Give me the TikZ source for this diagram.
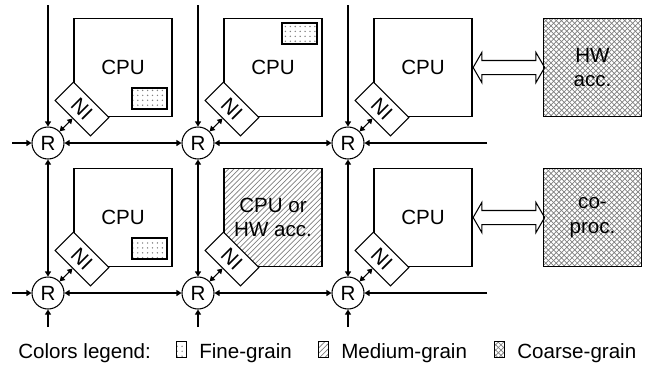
\documentclass[tikz,border=0pt]{standalone}
\usepackage{fontspec}
\setmainfont{Liberation Sans}
\usetikzlibrary{arrows.meta, positioning, patterns, shapes.arrows}

\pgfdeclarepatternformonly{finedots}{\pgfqpoint{-1pt}{-1pt}}{\pgfqpoint{1pt}{1pt}}{\pgfqpoint{2.8pt}{2.8pt}}%
{\pgfpathcircle{\pgfqpoint{0pt}{0pt}}{0.45pt}\pgfusepath{fill}}

\tikzset{
  lbl/.style={font=\fontsize{11.7}{14}\selectfont},
  router/.style={circle, draw, line width=0.6pt, minimum size=0.64cm, inner sep=0pt, fill=white, lbl},
  core/.style={draw, line width=0.6pt, minimum size=1.96cm, inner sep=0pt, align=center, lbl},
  ni/.style={draw, line width=0.6pt, fill=white, minimum width=1cm, minimum height=0.52cm, inner sep=0pt, rotate=-45, lbl},
  patch/.style={draw, line width=0.6pt, minimum width=0.7cm, minimum height=0.42cm, inner sep=0pt},
  legicon/.style={draw, line width=0.4pt, minimum width=0.2cm, minimum height=0.32cm, inner sep=0pt},
  legtext/.style={lbl, inner sep=0pt},
  link/.style={line width=0.6pt, {Triangle[length=1mm,width=1.2mm]}-{Triangle[length=1mm,width=1.2mm]}},
  inlink/.style={line width=0.6pt, -{Triangle[length=1mm,width=1.2mm]}},
  bus/.style={double arrow, draw, line width=0.6pt, inner sep=0pt, inner ysep=0.13cm, double arrow head extend=0.16cm, double arrow tip angle=120},
  fine/.style={pattern=finedots, pattern color=gray},
  medium/.style={pattern=north east lines, pattern color=gray},
  coarse/.style={pattern=crosshatch, pattern color=gray}
}

\begin{document}
\begin{tikzpicture}
    \useasboundingbox (-0.96,-4.46) rectangle (12.02,2.86);

    % Cores
    \node[core] (c00) at (1.5,1.51) {CPU};
    \node[core] (c10) at (4.5,1.51) {CPU};
    \node[core] (c20) at (7.5,1.51) {CPU};
    \node[core] (c01) at (1.5,-1.49) {CPU};
    \node[core, medium] (c11) at (4.5,-1.49) {CPU or\\HW acc.};
    \node[core] (c21) at (7.5,-1.49) {CPU};

    % Fine-grain parts
    \node[patch, fine] (f00) at (2.03,0.89) {};
    \node[patch, fine] (f10) at (5.03,2.19) {};
    \node[patch, fine] (f01) at (2.03,-2.11) {};

    % Accelerators
    \node[core, coarse] (hw) at (10.89,1.51) {HW\\acc.};
    \node[core, coarse] (cop) at (10.89,-1.49) {co-\\proc.};
    \node[bus, minimum height=1.43cm, right=0pt of c20] (bus0) {};
    \node[bus, minimum height=1.43cm, right=0pt of c21] (bus1) {};

    % Network interfaces
    \node[ni] (n00) at (0.68,0.68) {NI};
    \node[ni] (n10) at (3.68,0.68) {NI};
    \node[ni] (n20) at (6.68,0.68) {NI};
    \node[ni] (n01) at (0.68,-2.32) {NI};
    \node[ni] (n11) at (3.68,-2.32) {NI};
    \node[ni] (n21) at (6.68,-2.32) {NI};

    % Routers
    \node[router] (r00) at (0,0) {R};
    \node[router] (r10) at (3,0) {R};
    \node[router] (r20) at (6,0) {R};
    \node[router] (r01) at (0,-3) {R};
    \node[router] (r11) at (3,-3) {R};
    \node[router] (r21) at (6,-3) {R};

    % Free ends of the mesh
    \coordinate (t0) at (0,2.76);
    \coordinate (t1) at (3,2.76);
    \coordinate (t2) at (6,2.76);
    \coordinate (b0) at (0,-3.68);
    \coordinate (b1) at (3,-3.68);
    \coordinate (b2) at (6,-3.68);
    \coordinate (l0) at (-0.72,0);
    \coordinate (l1) at (-0.72,-3);
    \coordinate (e0) at (8.78,0);
    \coordinate (e1) at (8.78,-3);

    % Mesh links
    \draw[inlink] (t0) -- (r00);
    \draw[inlink] (t1) -- (r10);
    \draw[inlink] (t2) -- (r20);
    \draw[inlink] (b0) -- (r01);
    \draw[inlink] (b1) -- (r11);
    \draw[inlink] (b2) -- (r21);
    \draw[inlink] (l0) -- (r00);
    \draw[inlink] (l1) -- (r01);
    \draw[inlink] (e0) -- (r20);
    \draw[inlink] (e1) -- (r21);
    \draw[link] (r00) -- (r10);
    \draw[link] (r10) -- (r20);
    \draw[link] (r01) -- (r11);
    \draw[link] (r11) -- (r21);
    \draw[link] (r00) -- (r01);
    \draw[link] (r10) -- (r11);
    \draw[link] (r20) -- (r21);

    % NI to router
    \draw[link] (r00.45) -- (n00.south);
    \draw[link] (r10.45) -- (n10.south);
    \draw[link] (r20.45) -- (n20.south);
    \draw[link] (r01.45) -- (n01.south);
    \draw[link] (r11.45) -- (n11.south);
    \draw[link] (r21.45) -- (n21.south);

    % Legend
    \node[legtext, anchor=base west] (leg) at (-0.6,-4.3) {Colors legend:};
    \node[legicon, fine, right=0.5cm of leg.base east, anchor=south west] (lfine) {};
    \node[legtext, right=0.24cm of lfine.south east, anchor=base west] (tfine) {Fine-grain};
    \node[legicon, medium, right=0.52cm of tfine.base east, anchor=south west] (lmed) {};
    \node[legtext, right=0.24cm of lmed.south east, anchor=base west] (tmed) {Medium-grain};
    \node[legicon, coarse, right=0.54cm of tmed.base east, anchor=south west] (lcoarse) {};
    \node[legtext, right=0.24cm of lcoarse.south east, anchor=base west] (tcoarse) {Coarse-grain};
\end{tikzpicture}
\end{document}
